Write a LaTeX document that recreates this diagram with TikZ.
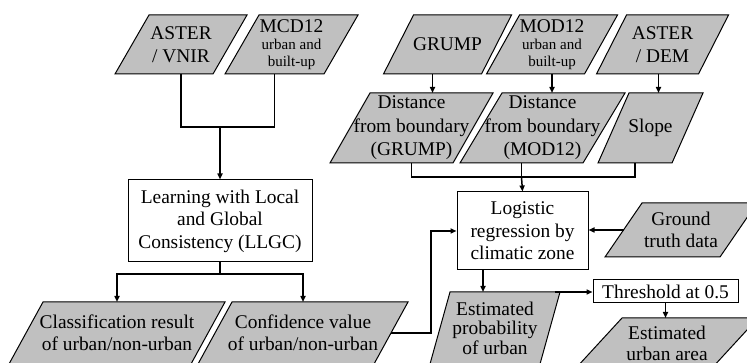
\documentclass[tikz,border=0pt]{standalone}
\usepackage{fontspec}
\setmainfont{Liberation Serif}
\usetikzlibrary{arrows.meta, backgrounds}
\definecolor{boxgray}{RGB}{192,192,192}

\begin{document}
\begin{tikzpicture}[x=1pt, y=-1pt,
  every node/.style={font=\fontsize{19.4}{22.5}\selectfont, align=center, inner sep=1pt},
  databox/.style={rectangle, inner sep=0pt, outer sep=0pt},
  dataface/.style={draw, line width=1pt, fill=boxgray},
  procbox/.style={rectangle, draw, line width=1pt, fill=white},
  small/.style={font=\fontsize{15}{17}\selectfont},
  link/.style={line width=1.5pt},
  arrow/.style={link, -{Triangle[length=6pt, width=5pt]}}]
\useasboundingbox (0,0) rectangle (747,363);
%Inputs
\node[databox, minimum width=98pt, minimum height=59pt] (vnir) at (181,44.5) {ASTER\\/ VNIR};
\node[databox, small, minimum width=99pt, minimum height=59pt] (mcd) at (291.5,44.5)
  {{\fontsize{19.4}{21}\selectfont MCD12}\\urban and\\built-up};
\node[databox, minimum width=98pt, minimum height=59pt] (grump) at (447.5,44.5) {GRUMP};
\node[databox, small, minimum width=98pt, minimum height=59pt] (mod) at (552,44.5)
  {{\fontsize{19.4}{21}\selectfont MOD12}\\urban and\\built-up};
\node[databox, minimum width=102pt, minimum height=59pt] (dem) at (662.5,44.5) {ASTER\\/ DEM};
\node[databox, font=\fontsize{19.4}{23.5}\selectfont, minimum width=123pt, minimum height=70pt] (dgrump) at (411.5,128) {Distance\\from boundary\\(GRUMP)};
\node[databox, font=\fontsize{19.4}{23.5}\selectfont, minimum width=123pt, minimum height=70pt] (dmod) at (542.5,128) {Distance\\from boundary\\(MOD12)};
\node[databox, minimum width=74pt, minimum height=70pt] (slope) at (650.5,128) {Slope};
%Process
\node[procbox, minimum width=184pt, minimum height=82pt] (llgc) at (220,221) {Learning with Local\\and Global\\Consistency (LLGC)};
\node[procbox, minimum width=131pt, minimum height=78pt] (logit) at (522.5,231) {Logistic\\regression by\\climatic zone};
\node[databox, minimum width=115pt, minimum height=54pt] (ground) at (681,230) {Ground\\truth data};
\node[procbox, minimum width=145pt, minimum height=23pt] (thr) at (665.5,291.5) {Threshold at 0.5};
%Outputs
\node[databox, minimum width=182pt, minimum height=62pt] (cls) at (117,333) {Classification result\\of urban/non-urban};
\node[databox, minimum width=176pt, minimum height=62pt] (conf) at (303,333) {Confidence value\\of urban/non-urban};
\node[databox, font=\fontsize{19.4}{19.5}\selectfont, minimum width=110pt, minimum height=72pt] (prob) at (495,328) {Estimated\\probability\\of urban};
\node[databox, font=\fontsize{19.4}{21}\selectfont, minimum width=136pt, minimum height=50pt] (urban) at (667,343) {Estimated\\urban area};
%Shapes
\begin{scope}[on background layer]
\foreach \n/\s in {vnir/34, mcd/34, grump/30, mod/33, dem/30, dgrump/40, dmod/42, slope/31,
    cls/34, conf/34, ground/37, prob/20, urban/46}
  \path[dataface] ([xshift=\s/2]\n.north west) -- ([xshift=\s/2]\n.north east)
    -- ([xshift=-\s/2]\n.south east) -- ([xshift=-\s/2]\n.south west) -- cycle;
\end{scope}
%Links
\coordinate (j1) at (220,127);
\coordinate (j2) at (220,274);
\coordinate (j3) at ([xshift=-21pt]dmod.south |- 0,177);
\draw[link] (vnir.south) |- (j1) -| ([xshift=-17pt]mcd.south);
\draw[arrow] (j1) -- (llgc.north);
\draw[link] (llgc.south) -- (j2);
\draw[arrow] (j2) -| (cls.north);
\draw[arrow] (j2) -| (conf.north);
\draw[arrow] ([xshift=-15pt]grump.south) -- ([xshift=-15pt]grump.south |- dgrump.north);
\draw[arrow] (mod.south) -- (mod.south |- dmod.north);
\draw[arrow] ([xshift=-4pt]dem.south) -- ([xshift=-4pt]dem.south |- slope.north);
\draw[link] (dgrump.south) |- (j3) -| ([xshift=-15.5pt]slope.south);
\draw[link] ([xshift=-21pt]dmod.south) -- (j3);
\draw[arrow] (j3) -- (logit.north);
\draw[arrow] (conf.east) -- ++(40,0) |- (logit.west);
\draw[arrow] (ground.west) -- (ground.west -| logit.east);
\draw[arrow] ([xshift=-39.5pt]logit.south) -- ([xshift=-39.5pt]logit.south |- prob.north);
\draw[arrow] ([xshift=5pt]prob.north east) -- (prob.north east -| thr.west);
\draw[arrow] (thr.south) -- (thr.south |- urban.north);
\end{tikzpicture}
\end{document}
